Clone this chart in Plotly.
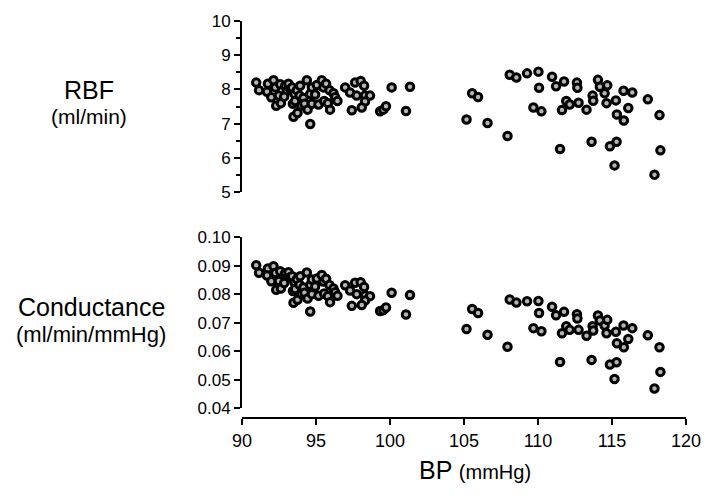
import plotly.graph_objects as go

# ---- data ----
bp_low = [90.96, 91.15, 91.75, 91.69, 91.98, 92.13, 92.25, 92.31, 92.49, 92.63,
          92.58, 92.92, 93.03, 92.85, 93.14, 93.26, 93.44, 93.48, 93.39, 93.55,
          93.59, 93.75, 93.71, 93.93, 93.89, 94.00, 94.15, 94.22, 94.38, 94.43,
          94.61, 94.61, 94.72, 94.72, 94.94, 95.06, 95.17, 95.39, 95.50, 95.55,
          95.68, 95.80, 95.91, 95.95, 96.18, 96.29, 96.45, 96.97, 97.30, 97.64,
          98.02, 98.25, 97.75, 98.31, 98.65, 98.31, 98.09, 97.42, 99.33, 99.55,
          99.73, 100.11, 101.35, 101.08]
rbf_low = [8.20, 7.98, 8.17, 7.93, 7.77, 8.27, 8.06, 7.52, 7.82, 7.60,
           8.15, 8.11, 7.96, 7.79, 8.17, 8.01, 7.58, 7.20, 8.06, 7.87,
           7.66, 7.31, 7.98, 8.11, 7.82, 7.53, 7.75, 7.58, 8.27, 7.41,
           6.99, 7.87, 7.58, 8.06, 7.85, 8.13, 7.56, 8.27, 8.06, 7.66,
           8.17, 7.60, 7.98, 7.41, 7.89, 7.77, 7.66, 8.06, 7.91, 8.20,
           8.25, 8.11, 7.82, 7.82, 7.82, 7.65, 7.47, 7.39, 7.36, 7.41,
           7.51, 8.06, 8.08, 7.37]
cond_low = [0.0901, 0.0875, 0.0890, 0.0865, 0.0845, 0.0898, 0.0874, 0.0815, 0.0846, 0.0820,
            0.0880, 0.0873, 0.0856, 0.0839, 0.0877, 0.0859, 0.0811, 0.0770, 0.0863, 0.0841,
            0.0818, 0.0780, 0.0852, 0.0863, 0.0833, 0.0801, 0.0823, 0.0805, 0.0876, 0.0785,
            0.0739, 0.0832, 0.0800, 0.0851, 0.0827, 0.0855, 0.0794, 0.0867, 0.0844, 0.0802,
            0.0854, 0.0793, 0.0832, 0.0772, 0.0820, 0.0807, 0.0794, 0.0831, 0.0813, 0.0840,
            0.0842, 0.0825, 0.0800, 0.0795, 0.0793, 0.0778, 0.0762, 0.0759, 0.0741, 0.0744,
            0.0753, 0.0805, 0.0797, 0.0729]

bp_high = [105.17, 105.55, 105.95, 106.59, 107.94, 108.09, 108.54, 109.26, 110.03, 110.07,
           109.69, 110.23, 110.95, 111.22, 111.76, 111.49, 111.62, 111.91, 112.14, 112.63,
           112.66, 112.74, 113.28, 113.62, 113.69, 113.73, 114.05, 114.18, 114.50, 114.68,
           114.63, 115.26, 115.33, 114.86, 115.31, 115.17, 115.78, 115.80, 116.37, 116.10,
           117.42, 118.21, 118.27, 117.87]
rbf_high = [7.12, 7.89, 7.78, 7.02, 6.64, 8.43, 8.35, 8.47, 8.52, 8.05,
            7.47, 7.36, 8.37, 8.09, 8.23, 6.26, 7.40, 7.66, 7.56, 8.20,
            8.05, 7.61, 7.41, 6.47, 7.82, 7.67, 8.28, 8.08, 7.89, 8.12,
            7.60, 7.68, 7.27, 6.34, 6.47, 5.78, 7.96, 7.09, 7.91, 7.46,
            7.71, 7.25, 6.22, 5.51]
cond_high = [0.0678, 0.0748, 0.0734, 0.0658, 0.0616, 0.0781, 0.0771, 0.0775, 0.0776, 0.0734,
             0.0681, 0.0670, 0.0756, 0.0726, 0.0738, 0.0563, 0.0663, 0.0688, 0.0675, 0.0730,
             0.0715, 0.0675, 0.0654, 0.0570, 0.0688, 0.0673, 0.0725, 0.0708, 0.0690, 0.0710,
             0.0663, 0.0668, 0.0628, 0.0554, 0.0562, 0.0503, 0.0690, 0.0614, 0.0681, 0.0643,
             0.0656, 0.0614, 0.0528, 0.0470]

bp = bp_low + bp_high
rbf = rbf_low + rbf_high
cond = cond_low + cond_high

x_ticks = [90, 95, 100, 105, 110, 115, 120]
rbf_ticks = [5, 6, 7, 8, 9, 10]
cond_ticks = [0.04, 0.05, 0.06, 0.07, 0.08, 0.09, 0.10]

FONT = "Liberation Sans, Arial, Helvetica, sans-serif"
marker = dict(size=7.5, color="#b4b4b4", line=dict(color="black", width=3))

fig = go.Figure()
fig.add_trace(go.Scatter(x=bp, y=rbf, mode="markers", marker=marker,
                         xaxis="x2", yaxis="y2", showlegend=False))
fig.add_trace(go.Scatter(x=bp, y=cond, mode="markers", marker=marker,
                         xaxis="x", yaxis="y", showlegend=False))

axis_common = dict(showline=True, linecolor="black", linewidth=2, ticks="outside",
                   ticklen=6, tickwidth=2, tickcolor="black", showgrid=False,
                   zeroline=False, tickfont=dict(size=17, color="black", family=FONT))

fig.update_layout(
    width=713, height=501,
    margin=dict(l=242, r=26, t=12, b=83),
    paper_bgcolor="white", plot_bgcolor="white",
    font=dict(family=FONT, color="black"),
    xaxis=dict(**axis_common, range=[90, 120], tickvals=x_ticks, domain=[0, 1],
               anchor="free", position=0),
    xaxis2=dict(range=[90, 120], visible=False, anchor="y2", domain=[0, 1]),
    yaxis=dict(**axis_common, range=[0.04, 0.10], tickvals=cond_ticks,
               tickformat=".2f", domain=[0.024, 0.456], anchor="x"),
    yaxis2=dict(**axis_common, range=[5, 10], tickvals=rbf_ticks,
                domain=[0.569, 1.0], anchor="x2",
                minor=dict(tickvals=[5.5, 6.5, 7.5, 8.5, 9.5], ticks="outside",
                           ticklen=4, tickwidth=2, tickcolor="black")),
)
fig.update_xaxes(tickfont=dict(size=18), selector=dict(anchor="free"))

def lab(text, px, py, size):
    fig.add_annotation(text=text, x=(px - 242) / 445, y=(418 - py) / 406,
                       xref="paper", yref="paper", showarrow=False,
                       xanchor="center", yanchor="middle",
                       font=dict(size=size, color="black", family=FONT))

lab("RBF", 89, 83, 25)
lab("(ml/min)", 89, 110, 21)
lab("Conductance", 91, 304, 25)
lab("(ml/min/mmHg)", 91, 333, 22)
lab("BP <span style='font-size:20px'>(mmHg)</span>", 476, 471, 25)

fig.write_html("out.html", config={"displayModeBar": False},
               post_script="document.body.style.margin='0';")
